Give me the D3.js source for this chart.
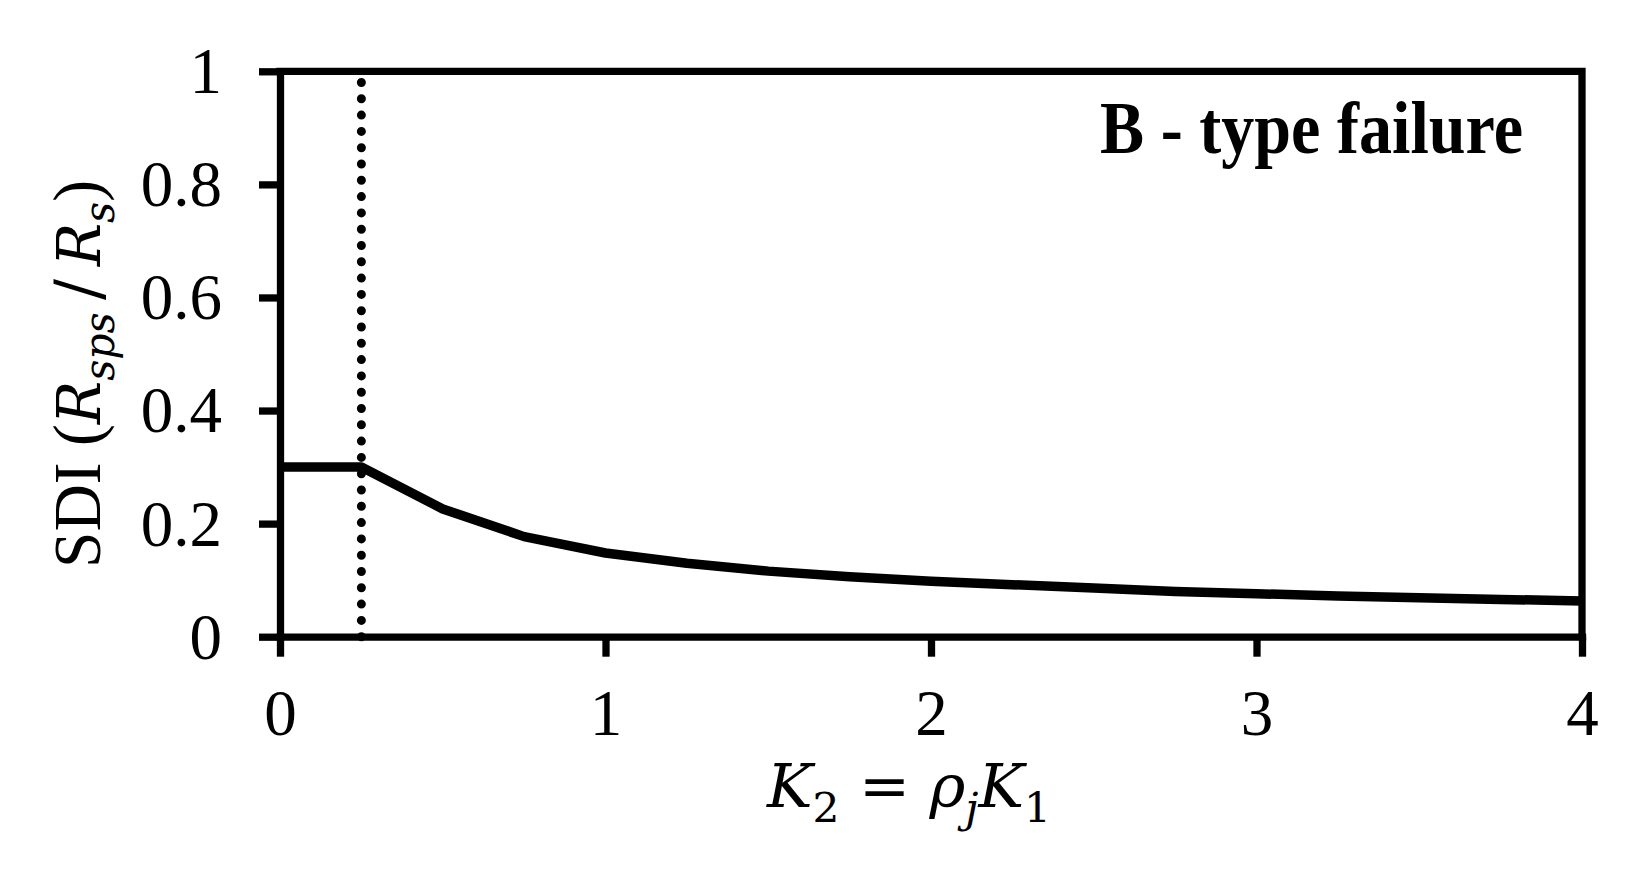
<!DOCTYPE html>
<html>
<head>
<meta charset="utf-8">
<script src="https://cdn.jsdelivr.net/npm/d3@7"></script>
<style>
  html, body { margin: 0; padding: 0; background: #fff; }
  svg { display: block; }
</style>
</head>
<body>
<div id="chart"></div>
<script>
// values
var kValues   = [0, 0.25, 0.5, 0.75, 1, 1.25, 1.5, 1.75, 2, 2.25, 2.5, 2.75, 3, 3.25, 3.5, 3.75, 4];
var sdiValues = [0.3, 0.3, 0.226, 0.177, 0.148, 0.130, 0.116, 0.106, 0.098, 0.092, 0.086, 0.080, 0.076, 0.072, 0.069, 0.066, 0.063];
var markerK = 0.25;
var xTicks = [0, 1, 2, 3, 4];
var yTicks = [0, 0.2, 0.4, 0.6, 0.8, 1];
var yTickLabels = ["0", "0.2", "0.4", "0.6", "0.8", "1"];
var panelLabel = "B - type failure";

var width = 1637, height = 873;
var plotLeft = 280, plotRight = 1582, plotTop = 71.3, plotBottom = 636.7;
var axisWidth = 7.3, lineWidth = 9.5;
var serif = "'Liberation Serif', 'Times New Roman', serif";
var mathFont = "'DejaVu Serif', 'Liberation Serif', serif";

var x = d3.scaleLinear().domain([0, 4]).range([plotLeft, plotRight]);
var y = d3.scaleLinear().domain([0, 1]).range([plotBottom, plotTop]);

var svg = d3.select("#chart").append("svg")
    .attr("width", width)
    .attr("height", height);

// plot border (top + right)
svg.append("path")
    .attr("d", "M" + x(0) + "," + y(1) + "H" + x(4) + "V" + y(0))
    .attr("fill", "none")
    .attr("stroke", "#000")
    .attr("stroke-width", axisWidth)
    .attr("stroke-linecap", "square");

// vertical dotted marker
svg.append("line")
    .attr("x1", x(markerK)).attr("x2", x(markerK))
    .attr("y1", y(0)).attr("y2", y(1))
    .attr("stroke", "#000")
    .attr("stroke-width", 9)
    .attr("stroke-linecap", "round")
    .attr("stroke-dasharray", "0 16.3");

// y axis
var yAxis = svg.append("g")
    .attr("transform", "translate(" + plotLeft + ",0)")
    .call(d3.axisLeft(y).tickValues(yTicks)
        .tickFormat(function(d, i) { return yTickLabels[i]; })
        .tickSize(21).tickSizeOuter(0).tickPadding(37));

// x axis
var xAxis = svg.append("g")
    .attr("transform", "translate(0," + plotBottom + ")")
    .call(d3.axisBottom(x).tickValues(xTicks)
        .tickFormat(d3.format("d"))
        .tickSize(20).tickSizeOuter(0));

[yAxis, xAxis].forEach(function(g) {
    g.select(".domain").attr("stroke-width", axisWidth).attr("stroke-linecap", "square");
    g.selectAll(".tick line").attr("stroke-width", axisWidth);
    g.selectAll(".tick text")
        .attr("fill", "#000")
        .style("font-family", serif)
        .style("font-size", "65px");
});
yAxis.selectAll(".tick text").attr("dy", "0.33em");
xAxis.selectAll(".tick text").attr("y", 98).attr("dy", 0);

// series line
var line = d3.line()
    .x(function(d, i) { return x(kValues[i]); })
    .y(function(d) { return y(d); });

svg.append("path")
    .datum(sdiValues)
    .attr("d", line)
    .attr("fill", "none")
    .attr("stroke", "#000")
    .attr("stroke-width", lineWidth)
    .attr("stroke-linejoin", "round");

// squeeze factor so a text takes a measured width
function fitText(text, target) {
    var w = text.node().getBBox().width;
    return target / w;
}

// panel label, right aligned at the top (tall, narrow glyphs)
var tg = svg.append("g");
var tt = tg.append("text")
    .attr("text-anchor", "end")
    .style("font-family", serif)
    .style("font-weight", "bold")
    .style("font-size", "73px")
    .text(panelLabel);
tg.attr("transform", "translate(1523,153) scale(" + fitText(tt, 423) + ",1)");

// x axis title: K2 = rho_j K1
var xg = svg.append("g");
var xt = xg.append("text")
    .attr("text-anchor", "middle")
    .style("font-family", mathFont)
    .style("font-size", "59px");
xt.append("tspan").style("font-style", "italic").text("K");
xt.append("tspan").attr("dy", 15).style("font-size", "41px").text("2");
xt.append("tspan").attr("dy", -15).text(" = ");
xt.append("tspan").style("font-style", "italic").text("ρ");
xt.append("tspan").attr("dy", 15).style("font-size", "41px").style("font-style", "italic").text("j");
xt.append("tspan").attr("dy", -15).style("font-style", "italic").text("K");
xt.append("tspan").attr("dy", 15).style("font-size", "41px").text("1");
xg.attr("transform", "translate(909,807) scale(" + fitText(xt, 285) + ",1)");

// y axis title: SDI (R_sps / R_s)
var yg = svg.append("g");
var yt = yg.append("text")
    .attr("text-anchor", "middle")
    .style("font-family", serif)
    .style("font-size", "67px");
yt.append("tspan").text("SDI (");
yt.append("tspan").style("font-family", mathFont).style("font-style", "italic").style("font-size", "59px").text("R");
yt.append("tspan").attr("dy", 14).style("font-family", mathFont).style("font-style", "italic").style("font-size", "42px").text("sps");
yt.append("tspan").attr("dy", -14).style("font-family", mathFont).style("font-size", "64px").text("\u2009/\u2009");
yt.append("tspan").style("font-family", mathFont).style("font-style", "italic").style("font-size", "59px").text("R");
yt.append("tspan").attr("dy", 14).style("font-family", mathFont).style("font-style", "italic").style("font-size", "42px").text("s");
yt.append("tspan").attr("dy", -14).text(")");
yg.attr("transform", "translate(100,374) rotate(-90) scale(" + fitText(yt, 388) + ",1)");
</script>
</body>
</html>
